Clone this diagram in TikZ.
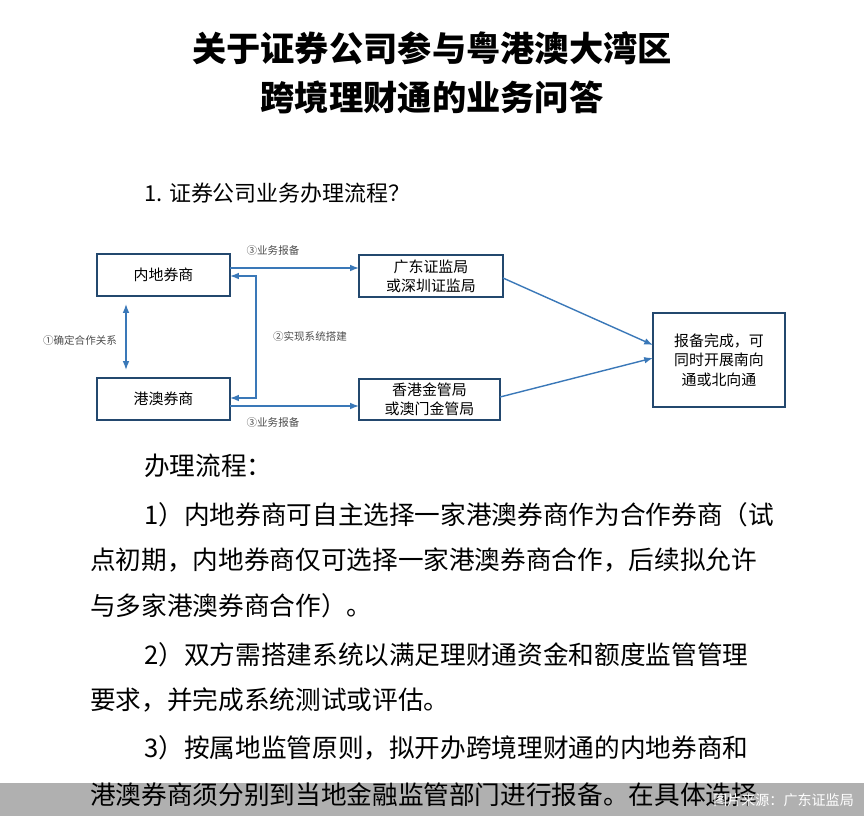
\documentclass[tikz,border=0pt]{standalone}
\usepackage{fontspec}
\setmainfont{Noto Sans CJK SC}
\usetikzlibrary{positioning, arrows.meta}
\definecolor{flowblue}{HTML}{3A78B8}
\definecolor{bandgray}{HTML}{B0B0B0}
\tikzset{box/.style={draw=flowblue!60!black, thick, align=center, font=\fontsize{8.5}{11}\selectfont}}
\tikzset{flow/.style={flowblue, thick, -{Latex[length=5pt]}}}
\tikzset{tag/.style={font=\fontsize{6}{7}\selectfont, text=black!70}}
\tikzset{body/.style={anchor=west, font=\fontsize{14.6}{17}\selectfont}}
\begin{document}
\begin{tikzpicture}[x=0.02cm, y=-0.02cm]
        \useasboundingbox (0,0) rectangle (864,816);
        % Title
        \node[font=\bfseries\fontsize{19.5}{23}\selectfont] (title1) at (432,48) {关于证券公司参与粤港澳大湾区};
        \node[font=\bfseries\fontsize{19.5}{23}\selectfont] (title2) at (432,97) {跨境理财通的业务问答};
        \node[body, font=\fontsize{12.5}{15}\selectfont] (head) at (138,193) {1. 证券公司业务办理流程？};
        % Boxes
        \path (97,254) rectangle (230,296) node[box, draw=none, midway] (mainland) {内地券商};
        \path (97,378) rectangle (230,420) node[box, draw=none, midway] (hkmo) {港澳券商};
        \path (359,255) rectangle (503,297) node[box, draw=none, midway] (gd) {广东证监局\\或深圳证监局};
        \path (359,379) rectangle (500,420) node[box, draw=none, midway] (hk) {香港金管局\\或澳门金管局};
        \path (653,313) rectangle (785,407) node[box, draw=none, midway] (done) {报备完成，可\\同时开展南向\\通或北向通};
        \draw[box] (97,254) rectangle (230,296);
        \draw[box] (97,378) rectangle (230,420);
        \draw[box] (359,255) rectangle (503,297);
        \draw[box] (359,379) rectangle (500,420);
        \draw[box] (653,313) rectangle (785,407);
        % Connectors
        \coordinate (a1) at (230,268); \coordinate (a2) at (359,268);
        \coordinate (b1) at (230,406); \coordinate (b2) at (359,406);
        \coordinate (c1) at (230,276); \coordinate (c2) at (230,398);
        \coordinate (v1) at (126,304); \coordinate (v2) at (126,370);
        \draw[flow] (a1) -- (a2);
        \draw[flow] (b1) -- (b2);
        \draw[flow, {Latex[length=5pt]}-{Latex[length=5pt]}] (v1) -- (v2);
        \draw[flow, {Latex[length=5pt]}-{Latex[length=5pt]}] (c1) -| (256,337) |- (c2);
        \draw[flow] (503,278) coordinate (g1) -- (653,345) coordinate (d1);
        \draw[flow] (500,397) coordinate (h1) -- (653,358) coordinate (d2);
        \node[tag] (t1) at (273,250) {③业务报备};
        \node[tag] (t2) at (273,422) {③业务报备};
        \node[tag] (t3) at (80,340) {①确定合作关系};
        \node[tag] (t4) at (310,336) {②实现系统搭建};
        % Text
        \node[body] (p0) at (138,466) {办理流程：};
        \node[body] (p1) at (138,515) {1）内地券商可自主选择一家港澳券商作为合作券商（试};
        \node[body] (p2) at (84,560) {点初期，内地券商仅可选择一家港澳券商合作，后续拟允许};
        \node[body] (p3) at (84,606) {与多家港澳券商合作）。};
        \node[body] (p4) at (138,655) {2）双方需搭建系统以满足理财通资金和额度监管管理};
        \node[body] (p5) at (84,700) {要求，并完成系统测试或评估。};
        \node[body] (p6) at (138,748) {3）按属地监管原则，拟开办跨境理财通的内地券商和};
        \fill[bandgray] (0,783) rectangle (864,816);
        \node[body] (p7) at (84,795) {港澳券商须分别到当地金融监管部门进行报备。在具体选择};
        \node[anchor=east, text=white, font=\fontsize{8}{9}\selectfont] (src) at (860,800) {图片来源：广东证监局};
\end{tikzpicture}
\end{document}
